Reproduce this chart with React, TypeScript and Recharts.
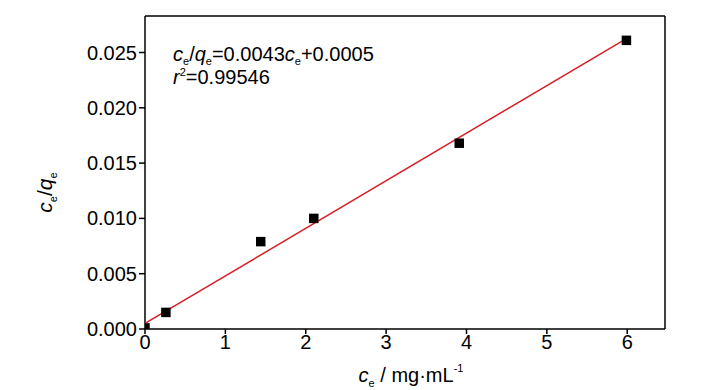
import React from 'react';
import { ComposedChart, Scatter, XAxis, YAxis, ReferenceLine, Label, ZAxis } from 'recharts';

if (typeof document !== 'undefined') document.body.style.margin = '0';

const ceValues = [0, 0.26, 1.44, 2.1, 3.91, 5.99];
const ratioValues = [0.0001, 0.0015, 0.0079, 0.01, 0.0168, 0.0261];
const fitX = [0, 6];
const fitY = [0.0005, 0.0263];
const xTicks = [0, 1, 2, 3, 4, 5, 6];
const yTicks = [0, 0.005, 0.01, 0.015, 0.02, 0.025];
const xMax = 6.47;
const yMax = 0.0283;

const points = ceValues.map((x, i) => ({ x, y: ratioValues[i] }));
const fit = fitX.map((x, i) => ({ x, y: fitY[i] }));

const FONT = '"Liberation Sans", Arial, sans-serif';

const YLabel = (props: any) => {
  const vb = props.viewBox || {};
  const cx = vb.x + 32;
  const cy = vb.y + vb.height / 2 + 20;
  return (
    <text x={cx} y={cy} transform={`rotate(-90, ${cx}, ${cy})`} textAnchor="middle" fontSize={21} fontFamily={FONT} fill="#000">
      <tspan fontStyle="italic">c</tspan>
      <tspan fontSize={11} dy={5}>e</tspan>
      <tspan dy={-5}>/</tspan>
      <tspan fontStyle="italic">q</tspan>
      <tspan fontSize={11} dy={5}>e</tspan>
    </text>
  );
};

const XLabel = (props: any) => {
  const vb = props.viewBox || {};
  const cx = vb.x + vb.width / 2 + 6;
  const cy = vb.y + 53;
  return (
    <text x={cx} y={cy} textAnchor="middle" fontSize={20} fontFamily={FONT} fill="#000">
      <tspan fontStyle="italic">c</tspan>
      <tspan fontSize={11} dy={5}>e</tspan>
      <tspan dy={-5}> / mg·mL</tspan>
      <tspan fontSize={11} dy={-10}>-1</tspan>
    </text>
  );
};

export default function App() {
  return (
    <div style={{ position: 'relative', width: 728, height: 390, background: '#fff' }}>
      <ComposedChart width={728} height={390} margin={{ top: 16, right: 63, bottom: 0, left: 20 }}>
        <XAxis
          type="number"
          dataKey="x"
          domain={[0, xMax]}
          ticks={xTicks}
          allowDataOverflow
          height={61}
          tickSize={5}
          tickMargin={1}
          axisLine={{ stroke: '#000', strokeWidth: 1.5 }}
          tickLine={{ stroke: '#000', strokeWidth: 1.5 }}
          tick={{ fill: '#000', fontSize: 20, fontFamily: FONT }}
        >
          <Label content={<XLabel />} />
        </XAxis>
        <YAxis
          type="number"
          dataKey="y"
          domain={[0, yMax]}
          ticks={yTicks}
          allowDataOverflow
          width={125}
          tickSize={6}
          tickMargin={2}
          tickFormatter={(v: number) => v.toFixed(3)}
          axisLine={{ stroke: '#000', strokeWidth: 1.5 }}
          tickLine={{ stroke: '#000', strokeWidth: 1.5 }}
          tick={{ fill: '#000', fontSize: 20, fontFamily: FONT }}
        >
          <Label content={<YLabel />} />
        </YAxis>
        <ZAxis range={[90, 90]} />
        <ReferenceLine x={xMax} stroke="#000" strokeWidth={1.5} ifOverflow="extendDomain" />
        <ReferenceLine y={yMax} stroke="#000" strokeWidth={1.5} ifOverflow="extendDomain" />
        <Scatter
          data={fit}
          line={{ stroke: '#d71f26', strokeWidth: 1.5 }}
          shape={() => <g />}
          isAnimationActive={false}
        />
        <Scatter data={points} fill="#000" shape="square" isAnimationActive={false} />
      </ComposedChart>
      <svg width={728} height={390} style={{ position: 'absolute', left: 0, top: 0, pointerEvents: 'none' }}>
        <text x={173} y={61} fontSize={20} fontFamily={FONT} fill="#000">
          <tspan fontStyle="italic">c</tspan>
          <tspan fontSize={11} dy={4}>e</tspan>
          <tspan dy={-4}>/</tspan>
          <tspan fontStyle="italic">q</tspan>
          <tspan fontSize={11} dy={4}>e</tspan>
          <tspan dy={-4}>=0.0043</tspan>
          <tspan fontStyle="italic">c</tspan>
          <tspan fontSize={11} dy={4}>e</tspan>
          <tspan dy={-4}>+0.0005</tspan>
        </text>
        <text x={173} y={84} fontSize={20} fontFamily={FONT} fill="#000">
          <tspan fontStyle="italic">r</tspan>
          <tspan fontSize={11} dy={-8}>2</tspan>
          <tspan dy={8}>=0.99546</tspan>
        </text>
      </svg>
    </div>
  );
}
